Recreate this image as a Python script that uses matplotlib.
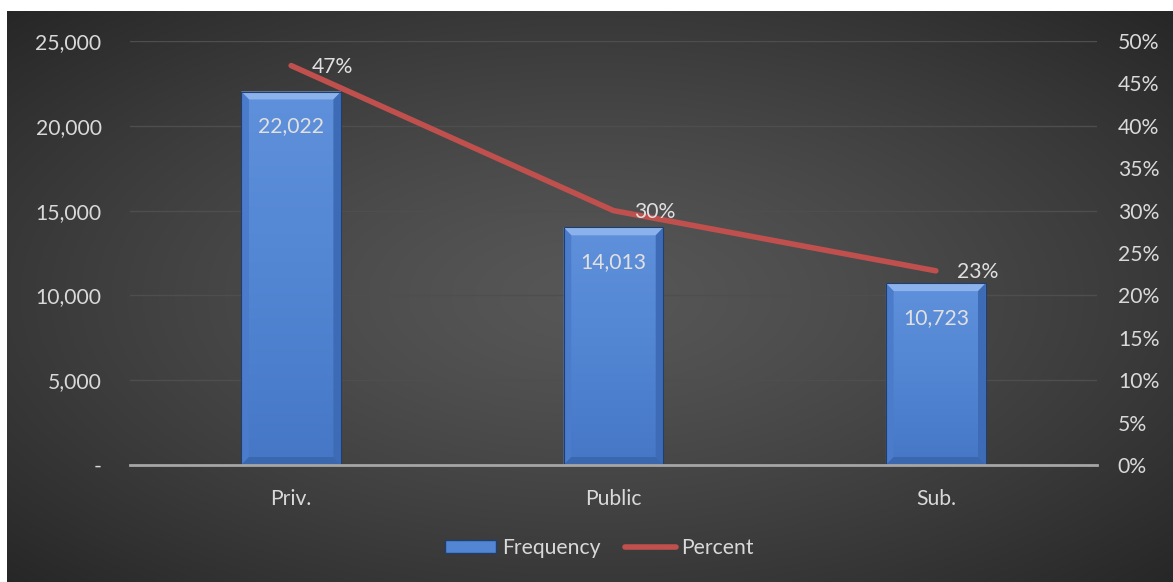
import numpy as np
import matplotlib
matplotlib.use("Agg")
import matplotlib.pyplot as plt
from matplotlib.patches import Rectangle, Polygon
from matplotlib.lines import Line2D
from matplotlib.ticker import FuncFormatter, MultipleLocator

categories = ["Priv.", "Public", "Sub."]
frequency = [22022, 14013, 10723]
percent = [0.471, 0.300, 0.229]
freq_labels = ["22,022", "14,013", "10,723"]
pct_labels = ["47%", "30%", "23%"]

plt.rcParams['font.family'] = ['Lato', 'DejaVu Sans']
FS = 15.2
W, H = 1173, 582
fig = plt.figure(figsize=(W / 100, H / 100), dpi=100)
fig.patch.set_facecolor("white")

# background panel with radial gradient
bx0, by0 = 7 / W, 0
bg = fig.add_axes([bx0, by0, 1 - bx0, (H - 11) / H])
bg.set_axis_off()
yy, xx = np.mgrid[0:1:300j, 0:1:600j]
r = np.sqrt(((xx - 0.5) / 0.75) ** 2 + ((yy - 0.5) / 0.75) ** 2)
r = np.clip(r / 0.95, 0, 1)
v = 0.34 - 0.19 * r ** 1.3
img = np.dstack([v, v, v])
bg.imshow(img, extent=[0, 1, 0, 1], aspect="auto", origin="lower")
bg.set_xlim(0, 1)
bg.set_ylim(0, 1)

# main plot
L, R = 130 / W, 1097 / W
B, T = (H - 465) / H, (H - 41) / H
ax = fig.add_axes([L, B, R - L, T - B])
ax.set_facecolor("none")
x = np.arange(len(categories))
ax.set_xlim(-0.5, len(categories) - 0.5)
ax.set_ylim(0, 25000)
ax.yaxis.set_major_locator(MultipleLocator(5000))
ax.yaxis.grid(True, color="#4e4e4e", lw=1.0)
ax.set_axisbelow(True)
for s in ["top", "right", "left"]:
    ax.spines[s].set_visible(False)
ax.spines["bottom"].set_color("#a6a6a6")
ax.spines["bottom"].set_linewidth(2.0)
ax.tick_params(axis="both", length=0, colors="#d9d9d9", labelsize=FS)
ax.tick_params(axis="y", pad=20.5)
ax.tick_params(axis="x", pad=17)
ax.yaxis.set_major_formatter(FuncFormatter(lambda v, p: "-" if v == 0 else f"{int(v):,}"))
ax.set_xticks(x)
ax.set_xticklabels(categories)

bw = 0.31
dx = 0.024   # bevel width in data units (~8 px)
dy = 470     # bevel height in data units (~8 px)
grad = np.linspace(0, 1, 100).reshape(-1, 1)
cmap = matplotlib.colors.LinearSegmentedColormap.from_list("b", ["#4577c6", "#5286d3", "#5f90db"])
bars = ax.bar(x, frequency, width=bw, color="#5286d3", edgecolor="none", zorder=2)
for b in bars:
    x0, y0 = b.get_x(), b.get_y()
    x1, y1 = x0 + b.get_width(), y0 + b.get_height()
    im = ax.imshow(grad, extent=[x0, x1, y0, y1], aspect="auto",
                   cmap=cmap, origin="lower", zorder=2.1)
    im.set_clip_path(b)
    # bevel facets
    ax.add_patch(Polygon([(x0, y1), (x1, y1), (x1 - dx, y1 - dy), (x0 + dx, y1 - dy)],
                         closed=True, facecolor="#8cb2ec", edgecolor="none", zorder=2.2))
    ax.add_patch(Polygon([(x0, y0), (x0, y1), (x0 + dx, y1 - dy), (x0 + dx, y0 + dy)],
                         closed=True, facecolor="#4b7ccb", edgecolor="none", zorder=2.2))
    ax.add_patch(Polygon([(x1, y0), (x1, y1), (x1 - dx, y1 - dy), (x1 - dx, y0 + dy)],
                         closed=True, facecolor="#3d6bb5", edgecolor="none", zorder=2.2))
    ax.add_patch(Polygon([(x0, y0), (x1, y0), (x1 - dx, y0 + dy), (x0 + dx, y0 + dy)],
                         closed=True, facecolor="#3a67ad", edgecolor="none", zorder=2.2))
    ax.add_patch(Rectangle((x0, y0), x1 - x0, y1 - y0, facecolor="none",
                           edgecolor="#203e6e", lw=0.8, zorder=2.3))

for xi, f, lab in zip(x, frequency, freq_labels):
    ax.text(xi, f - 2050, lab, ha="center", va="center", color="#e0e0e0",
            fontsize=FS, zorder=5)

ax2 = ax.twinx()
ax2.set_ylim(0, 0.5)
ax2.yaxis.set_major_locator(MultipleLocator(0.05))
ax2.yaxis.set_major_formatter(FuncFormatter(lambda v, p: f"{v*100:.0f}%"))
for s in ax2.spines.values():
    s.set_visible(False)
ax2.tick_params(axis="y", length=0, colors="#d9d9d9", labelsize=FS, pad=15)
ax2.plot(x, percent, color="#c0504d", lw=4, solid_capstyle="round", zorder=4)
for xi, p, lab in zip(x, percent, pct_labels):
    ax2.annotate(lab, (xi, p), xytext=(15, -1), textcoords="offset points",
                 ha="left", va="center", color="#e0e0e0", fontsize=FS, zorder=5)

handles = [Rectangle((0, 0), 1, 1, facecolor="#5286d3", edgecolor="#203e6e"),
           Line2D([0], [0], color="#c0504d", lw=4, solid_capstyle="round")]
leg = fig.legend(handles, ["Frequency", "Percent"], loc="center",
                 bbox_to_anchor=(0.511, (H - 548) / H), ncol=2, frameon=False,
                 fontsize=FS, labelcolor="#d9d9d9", handlelength=2.45,
                 handletextpad=0.25, columnspacing=1.15, handleheight=0.55)

fig.savefig("out.png", dpi=100, facecolor=fig.get_facecolor())
